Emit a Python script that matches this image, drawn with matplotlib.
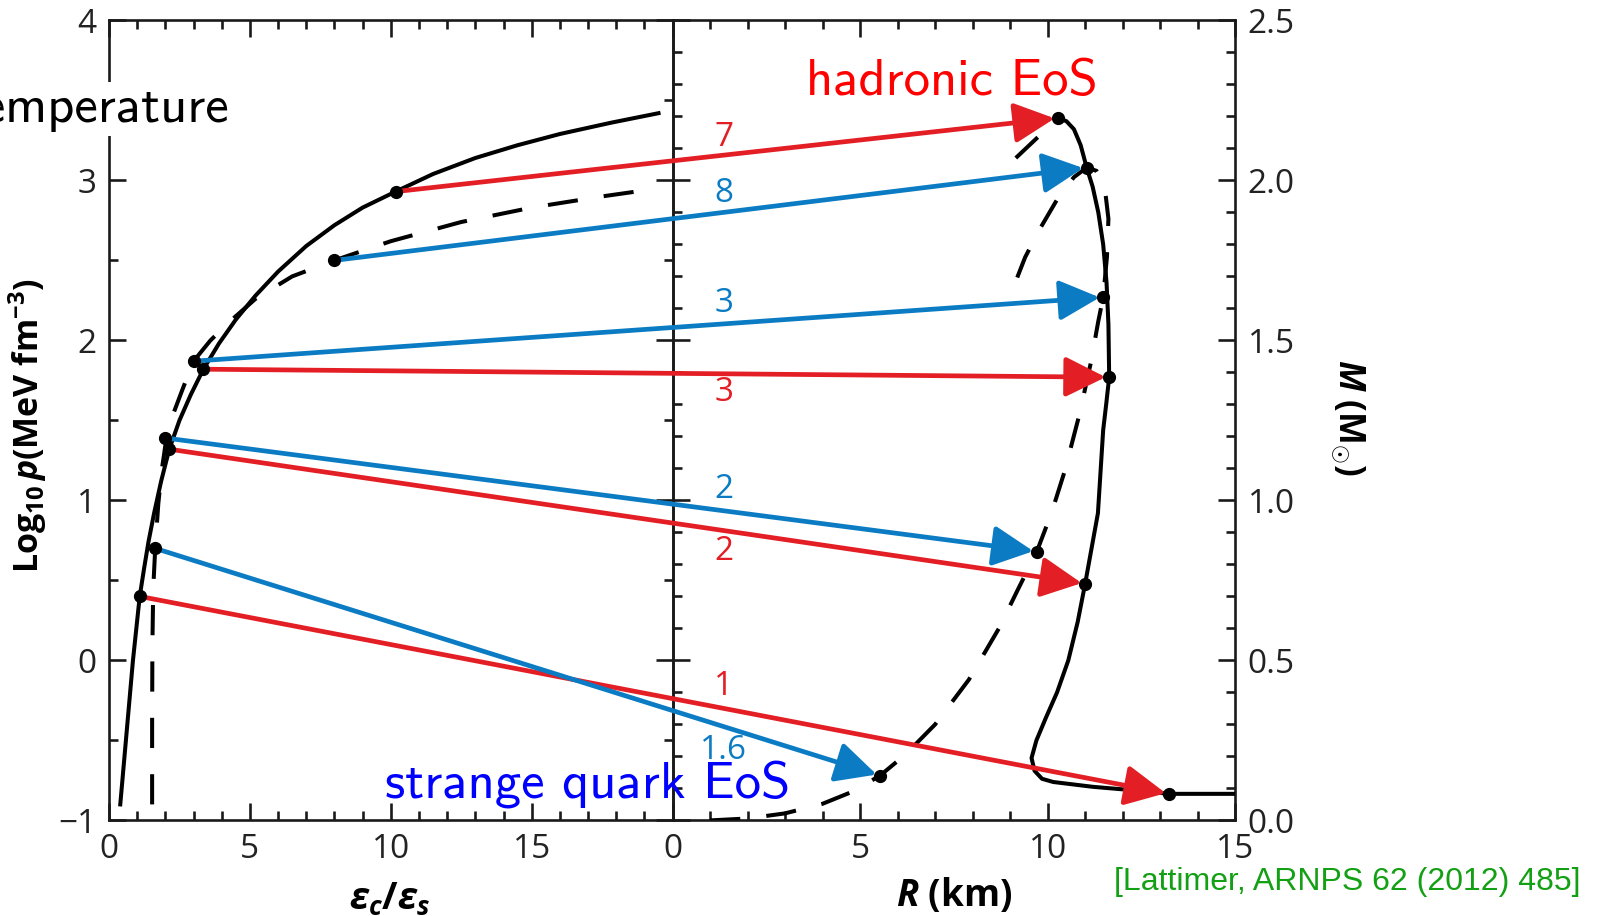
import matplotlib
matplotlib.use("Agg")
import matplotlib.pyplot as plt
from matplotlib.patches import ConnectionPatch
from matplotlib.ticker import FixedLocator, MultipleLocator

# ---------------- data ----------------
# left panel: log10 p vs eps_c/eps_s
eps_had = [0.40, 0.55, 0.70, 0.85, 0.97, 1.09, 1.25, 1.40, 1.60, 1.85, 2.14, 2.50, 2.90,
           3.35, 3.90, 4.50, 5.20, 6.00, 7.00, 8.00, 9.00, 10.17, 11.50, 13.00, 14.50,
           16.00, 17.80, 19.50]
logp_had = [-0.90, -0.60, -0.30, 0.00, 0.20, 0.40, 0.58, 0.74, 0.92, 1.12, 1.32, 1.50, 1.66,
            1.82, 1.98, 2.13, 2.28, 2.43, 2.59, 2.72, 2.83, 2.93, 3.04, 3.14, 3.22,
            3.29, 3.36, 3.42]
eps_sqm = [1.53, 1.53, 1.54, 1.57, 1.64, 1.75, 1.88, 2.04, 2.30, 2.60, 3.00, 3.60, 4.30,
           5.20, 6.50, 8.00, 10.00, 12.50, 15.00, 17.50, 19.50]
logp_sqm = [-0.90, -0.40, 0.10, 0.45, 0.70, 0.98, 1.20, 1.39, 1.55, 1.69, 1.87, 2.00, 2.12,
            2.26, 2.40, 2.50, 2.62, 2.74, 2.83, 2.90, 2.95]

# right panel: M vs R
R_had = [10.28, 10.50, 10.70, 10.88, 11.04, 11.20, 11.35, 11.48, 11.57, 11.62, 11.64, 11.56,
         11.48, 11.34, 11.17, 11.00, 10.80, 10.55, 10.25, 9.95, 9.70, 9.57, 9.65, 9.85,
         10.15, 11.20, 12.20, 13.24, 15.00]
M_had = [2.195, 2.185, 2.16, 2.11, 2.04, 1.98, 1.90, 1.80, 1.68, 1.55, 1.385, 1.30,
         1.22, 0.96, 0.85, 0.74, 0.62, 0.50, 0.40, 0.32, 0.25, 0.195, 0.155, 0.13,
         0.12, 0.105, 0.095, 0.083, 0.083]
R_had_unst = [9.15, 10.28]
M_had_unst = [2.07, 2.195]
R_sqm = [1.0, 2.0, 3.0, 4.0, 4.8, 5.53, 6.2, 7.0, 7.9, 8.7, 9.2, 9.71, 10.1, 10.45, 10.85,
         11.15, 11.35, 11.48, 11.58, 11.62, 11.52, 11.30, 11.04, 10.70, 10.30, 9.80, 9.40, 9.10]
M_sqm = [0.0, 0.006, 0.022, 0.052, 0.09, 0.14, 0.205, 0.30, 0.44, 0.60, 0.72, 0.84, 0.96,
         1.09, 1.27, 1.43, 1.56, 1.635, 1.76, 1.88, 1.98, 2.03, 2.04, 2.01, 1.95, 1.85,
         1.76, 1.67]

# mapping arrows (central density -> star)
arrow_labels = ['7', '8', '3', '3', '2', '2', '1', '1.6']
arrow_kind = ['had', 'sqm', 'sqm', 'had', 'sqm', 'had', 'had', 'sqm']
arrow_eps = [10.17, 8.00, 3.00, 3.35, 2.00, 2.14, 1.09, 1.64]
arrow_logp = [2.93, 2.50, 1.87, 1.82, 1.39, 1.32, 0.40, 0.70]
arrow_R = [10.28, 11.04, 11.48, 11.64, 9.71, 11.00, 13.24, 5.53]
arrow_M = [2.195, 2.04, 1.635, 1.385, 0.84, 0.74, 0.083, 0.14]
label_R = [1.36, 1.36, 1.36, 1.36, 1.36, 1.36, 1.36, 1.36]
label_M = [2.134, 1.96, 1.615, 1.338, 1.035, 0.84, 0.417, 0.217]

xticks_left = [0, 5, 10, 15, 20]
xticklabels_left = ['0', '5', '10', '15', '']
yticks_left = [-1, 0, 1, 2, 3, 4]
yticklabels_left = ['\u22121', '0', '1', '2', '3', '4']
xticks_right = [0, 5, 10, 15]
xticklabels_right = ['0', '5', '10', '15']
yticks_right = [0.0, 0.5, 1.0, 1.5, 2.0, 2.5]
yticklabels_right = ['0.0', '0.5', '1.0', '1.5', '2.0', '2.5']

# ---------------- style ----------------
plt.rcParams['font.family'] = ['Open Sans', 'DejaVu Sans']
plt.rcParams['mathtext.fontset'] = 'custom'
plt.rcParams['mathtext.rm'] = 'Open Sans:bold'
plt.rcParams['mathtext.bf'] = 'Open Sans:bold'
plt.rcParams['mathtext.sf'] = 'Open Sans:bold'
plt.rcParams['mathtext.it'] = 'Open Sans:bold:italic'

RED = '#e31e24'
BLUE = '#0b7cc3'
TK = '#1a1a1a'
colors = {'had': RED, 'sqm': BLUE}

W, H = 1598, 916
fig = plt.figure(figsize=(W / 100, H / 100), dpi=100)
fig.patch.set_facecolor('white')


def fx(px):
    return px / W


def fy(py):
    return 1 - py / H


x0, xm, x1 = 109, 672.6, 1235.2
ytop, ybot = 20.4, 820.4
ax1 = fig.add_axes([fx(x0), fy(ybot), fx(xm) - fx(x0), fy(ytop) - fy(ybot)])
ax2 = fig.add_axes([fx(xm), fy(ybot), fx(x1) - fx(xm), fy(ytop) - fy(ybot)])
ax2.patch.set_alpha(0)

LW = 2.9
DASH = (7.5, 6.5)
# curves
ax1.plot(eps_had, logp_had, color='k', lw=LW, zorder=3)
ax1.plot(eps_sqm, logp_sqm, color='k', lw=LW, dashes=DASH, zorder=3)
ax2.plot(R_had, M_had, color='k', lw=LW, zorder=3)
ax2.plot(R_sqm, M_sqm, color='k', lw=LW, dashes=DASH, zorder=3)
ax2.plot(R_had_unst, M_had_unst, color='k', lw=LW, dashes=DASH, zorder=3)

# arrows
for lab, kind, e, lp, r, m, lr, lm in zip(arrow_labels, arrow_kind, arrow_eps, arrow_logp,
                                          arrow_R, arrow_M, label_R, label_M):
    c = colors[kind]
    con = ConnectionPatch(xyA=(e, lp), coordsA=ax1.transData,
                          xyB=(r, m), coordsB=ax2.transData,
                          arrowstyle='-|>,head_length=1.25,head_width=0.62',
                          mutation_scale=20, color=c, lw=3.4,
                          shrinkA=0, shrinkB=2.5, zorder=4)
    ax2.add_artist(con)
    con.set_clip_on(False)
    ax2.text(lr, lm, lab, color=c, fontsize=24, ha='center', va='center', zorder=6)

ax2.plot(arrow_R, arrow_M, 'o', color='k', ms=8.5, zorder=6, clip_on=False)
ax2.plot(arrow_eps, arrow_logp, 'o', color='k', ms=8.5, zorder=6, clip_on=False,
         transform=ax1.transData)

# axes / ticks
ax1.set_xlim(0, 20)
ax1.set_ylim(-1, 4)
ax2.set_xlim(0, 15)
ax2.set_ylim(0, 2.5)

for ax in (ax1, ax2):
    for s in ax.spines.values():
        s.set_linewidth(1.9)
        s.set_color(TK)
    ax.tick_params(which='both', direction='in', top=True, bottom=True, left=True,
                   right=True, width=1.9, color=TK, labelsize=24, labelcolor='#222222',
                   pad=9)
    ax.tick_params(which='major', length=12.5)
    ax.tick_params(which='minor', length=6.5)

ax1.xaxis.set_major_locator(FixedLocator(xticks_left))
ax1.set_xticklabels(xticklabels_left)
ax1.xaxis.set_minor_locator(MultipleLocator(1))
ax1.yaxis.set_major_locator(FixedLocator(yticks_left))
ax1.set_yticklabels(yticklabels_left)
ax1.yaxis.set_minor_locator(MultipleLocator(0.5))
ax1.tick_params(labelleft=True, labelright=False, labeltop=False, labelbottom=True)

ax2.xaxis.set_major_locator(FixedLocator(xticks_right))
ax2.set_xticklabels(xticklabels_right)
ax2.xaxis.set_minor_locator(MultipleLocator(1))
ax2.yaxis.set_major_locator(FixedLocator(yticks_right))
ax2.set_yticklabels(yticklabels_right)
ax2.yaxis.set_minor_locator(MultipleLocator(0.1))
ax2.tick_params(labelleft=False, labelright=True, labeltop=False, labelbottom=True)

# axis labels
fig.text(fx(28), fy(425), r'Log$_{10}\,p$(MeV fm$^{-3}$)', rotation=90, fontsize=24.5,
         fontweight='bold', ha='center', va='center')
fig.text(fx(1348), fy(417), r'$M$ (M$_{\odot}$)', rotation=-90, fontsize=25,
         fontweight='bold', ha='center', va='center')
fig.text(fx(390), fy(900), r'$\varepsilon_c/\varepsilon_s$', fontsize=27,
         fontweight='bold', ha='center', va='center')
fig.text(fx(954), fy(895), r'$R$ (km)', fontsize=26.5, fontweight='bold',
         ha='center', va='center')

# annotations
fig.text(fx(952), fy(95), 'hadronic EoS', color='#ff0000', fontsize=38,
         family='cmss10', ha='center', va='baseline')
fig.text(fx(588), fy(798), 'strange quark EoS', color='#0000ff', fontsize=38,
         family='cmss10', ha='center', va='baseline')
fig.text(fx(229), fy(122), 'Temperature', color='black', fontsize=38,
         family='cmss10', ha='right', va='baseline',
         bbox=dict(facecolor='white', edgecolor='none', pad=3))
fig.text(fx(1581), fy(890), '[Lattimer, ARNPS 62 (2012) 485]', color='#14a014',
         fontsize=23, family=['Liberation Sans', 'DejaVu Sans'], ha='right',
         va='baseline')

fig.savefig('out.png', dpi=100, facecolor='white')
